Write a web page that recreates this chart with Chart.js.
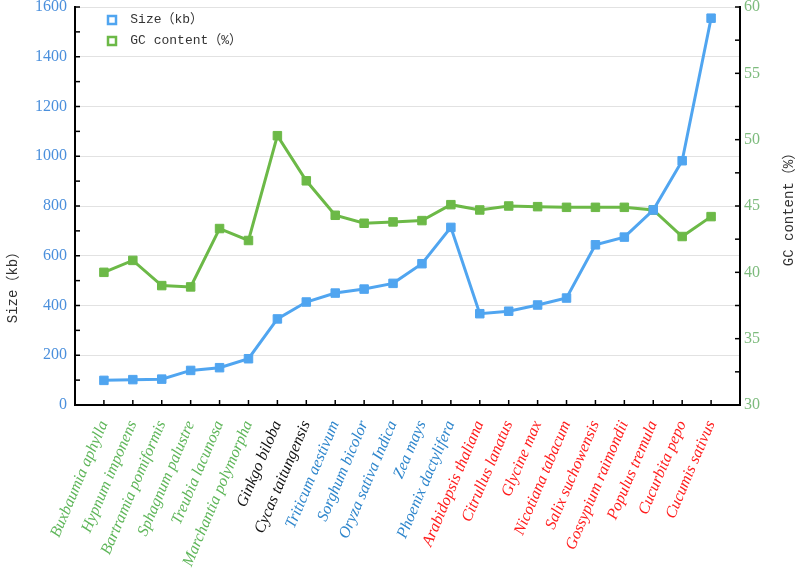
<!DOCTYPE html>
<html>
<head>
<meta charset="utf-8">
<script src="https://cdn.jsdelivr.net/npm/chart.js@4.4.1/dist/chart.umd.min.js"></script>
<style>
  html, body { margin: 0; padding: 0; background: #ffffff; }
  #wrap { width: 797px; height: 574px; position: relative; }
</style>
</head>
<body>
<div id="wrap"><canvas id="c" width="797" height="574"></canvas></div>
<script>
// ---- data ----
const categories = [
  'Buxbaumia aphylla', 'Hypnum imponens', 'Bartramia pomiformis', 'Sphagnum palustre',
  'Treubia lacunosa', 'Marchantia polymorpha', 'Ginkgo biloba', 'Cycas taitungensis',
  'Triticum aestivum', 'Sorghum bicolor', 'Oryza sativa Indica', 'Zea mays',
  'Phoenix dactylifera', 'Arabidopsis thaliana', 'Citrullus lanatus', 'Glycine max',
  'Nicotiana tabacum', 'Salix suchowensis', 'Gossypium raimondii', 'Populus tremula',
  'Cucurbita pepo', 'Cucumis sativus'
];
const groups = [
  'moss', 'moss', 'moss', 'moss', 'moss', 'moss',
  'gymno', 'gymno',
  'mono', 'mono', 'mono', 'mono', 'mono',
  'dicot', 'dicot', 'dicot', 'dicot', 'dicot', 'dicot', 'dicot', 'dicot', 'dicot'
];
const sizeKb = [99, 102, 104, 139, 150, 186, 346, 414, 450, 466, 489, 568, 714,
                367, 377, 402, 430, 644, 675, 784, 982, 1555];
const gcContent = [40.0, 40.9, 39.0, 38.9, 43.3, 42.4, 50.3, 46.9, 44.3, 43.7, 43.8, 43.9, 45.1,
                   44.7, 45.0, 44.95, 44.9, 44.9, 44.9, 44.7, 42.7, 44.2];
const sizeTicks = { min: 0, max: 1600, step: 200, minor: 100 };
const gcTicks = { min: 30, max: 60, step: 5, minor: 2.5 };

// ---- styling ----
const groupColors = { moss: '#5fb65a', gymno: '#111111', mono: '#2f86cc', dicot: '#ff1c1c' };
const blue = '#50a5f0';
const green = '#6cb947';

const labels = [''].concat(categories, ['']);
const sizeData = [null].concat(sizeKb, [null]);
const gcData = [null].concat(gcContent, [null]);

const monoFont = '"Liberation Mono", "Noto Sans CJK SC", monospace';

const legendPlace = {
  id: 'legendPlace',
  beforeDraw(chart) {
    const lg = chart.legend;
    if (!lg) return;
    const a = chart.chartArea;
    const w = lg.right - lg.left;
    lg.left = a.left + 25;
    lg.right = lg.left + w;
    lg.top = a.top - 1.5;
  }
};

const decor = {
  id: 'decor',
  afterDraw(chart) {
    const { ctx, chartArea: a, scales } = chart;
    const x = scales.x, y = scales.y, y1 = scales.y1;
    ctx.save();
    ctx.strokeStyle = '#000';
    ctx.lineWidth = 1.5;
    const seg = (x1, y1_, x2, y2) => { ctx.beginPath(); ctx.moveTo(x1, y1_); ctx.lineTo(x2, y2); ctx.stroke(); };
    for (let v = sizeTicks.min; v <= sizeTicks.max; v += sizeTicks.minor) {
      const p = y.getPixelForValue(v);
      seg(a.left - 1, p, a.left + 5, p);
    }
    for (let v = gcTicks.min; v <= gcTicks.max; v += gcTicks.minor) {
      const p = y1.getPixelForValue(v);
      seg(a.right - 5, p, a.right + 1, p);
    }
    for (let i = 1; i <= categories.length; i++) {
      const p = x.getPixelForValue(i);
      seg(p, a.bottom, p, a.bottom - 5);
    }
    // axis titles
    ctx.fillStyle = '#333333';
    ctx.font = '14px ' + monoFont;
    ctx.textAlign = 'center';
    ctx.textBaseline = 'middle';
    ctx.save();
    ctx.translate(13, 284);
    ctx.rotate(-Math.PI / 2);
    ctx.fillText('Size（kb）', 0, 0);
    ctx.restore();
    ctx.save();
    ctx.translate(789, (a.top + a.bottom) / 2);
    ctx.rotate(-Math.PI / 2);
    ctx.fillText('GC content（%）', 0, 0);
    ctx.restore();
    ctx.restore();
  }
};

const noPad = (s) => { s.paddingTop = 0; s.paddingBottom = 0; };

new Chart(document.getElementById('c'), {
  type: 'line',
  data: {
    labels: labels,
    datasets: [
      {
        label: 'Size（kb）',
        data: sizeData,
        yAxisID: 'y',
        borderColor: blue,
        backgroundColor: blue,
        borderWidth: 3,
        pointStyle: 'rect',
        pointRadius: 6,
        pointBorderWidth: 1,
        pointBackgroundColor: blue,
        pointBorderColor: blue,
        tension: 0,
        order: 1
      },
      {
        label: 'GC content（%）',
        data: gcData,
        yAxisID: 'y1',
        borderColor: green,
        backgroundColor: green,
        borderWidth: 3,
        pointStyle: 'rect',
        pointRadius: 6,
        pointBorderWidth: 1,
        pointBackgroundColor: green,
        pointBorderColor: green,
        tension: 0,
        order: 2
      }
    ]
  },
  options: {
    responsive: false,
    animation: false,
    spanGaps: false,
    layout: { padding: { top: 6, left: 0, right: 0, bottom: 0 } },
    plugins: {
      tooltip: { enabled: false },
      legend: {
        position: 'chartArea',
        align: 'start',
        labels: {
          usePointStyle: true,
          pointStyle: 'rect',
          boxWidth: 8,
          boxHeight: 8,
          padding: 8,
          color: '#333333',
          font: { family: monoFont, size: 13 },
          generateLabels(chart) {
            return chart.data.datasets.map((ds, i) => ({
              text: ' ' + ds.label,
              fillStyle: '#ffffff',
              strokeStyle: ds.borderColor,
              lineWidth: 2.5,
              pointStyle: 'rect',
              fontColor: '#333333',
              datasetIndex: i,
              hidden: false
            }));
          }
        }
      }
    },
    scales: {
      x: {
        type: 'category',
        offset: false,
        grid: { display: false, drawTicks: false },
        border: { display: true, color: '#000', width: 2 },
        afterFit(s) { s.height = 169; s.paddingLeft = 0; s.paddingRight = 0; },
        ticks: {
          autoSkip: false,
          minRotation: 67,
          maxRotation: 67,
          padding: 13,
          font: { family: '"Liberation Serif", serif', size: 16, style: 'italic' },
          color: (c) => {
            const i = c.index - 1;
            return (i >= 0 && i < groups.length) ? groupColors[groups[i]] : '#000';
          }
        }
      },
      y: {
        position: 'left',
        min: sizeTicks.min,
        max: sizeTicks.max,
        afterFit(s) { s.width = 75; noPad(s); },
        grid: { color: '#e2e2e2', lineWidth: 1, drawTicks: false },
        border: { display: true, color: '#000', width: 2 },
        ticks: {
          stepSize: sizeTicks.step,
          padding: 8,
          color: '#4a8fdc',
          font: { family: '"Liberation Serif", serif', size: 16 },
          callback: (v) => String(v)
        }
      },
      y1: {
        position: 'right',
        min: gcTicks.min,
        max: gcTicks.max,
        afterFit(s) { s.width = 57; noPad(s); },
        grid: { display: false, drawOnChartArea: false, drawTicks: false },
        border: { display: true, color: '#000', width: 2 },
        ticks: {
          stepSize: gcTicks.step,
          padding: 4,
          color: '#7dbb7d',
          font: { family: '"Liberation Serif", serif', size: 16 },
          callback: (v) => String(v)
        }
      }
    }
  },
  plugins: [legendPlace, decor]
});
</script>
</body>
</html>
